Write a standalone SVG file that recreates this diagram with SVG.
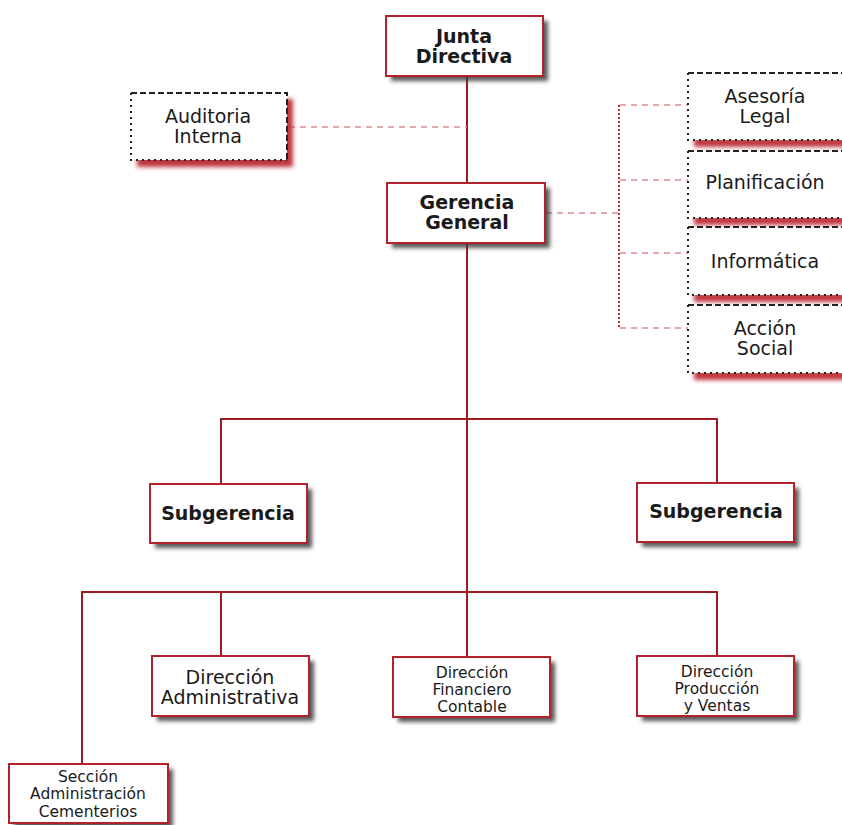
<svg xmlns="http://www.w3.org/2000/svg" width="842" height="825" viewBox="0 0 842 825">
  <defs>
    <filter id="blur" x="-10%" y="-20%" width="130%" height="160%">
      <feGaussianBlur stdDeviation="2"/>
    </filter>
    <style>
      text { font-family: "DejaVu Sans", Verdana, sans-serif; fill: #1a1a1a; text-anchor: middle; }
      .b { font-weight: bold; font-size: 19px; }
      .n { font-size: 19px; }
      .s { font-size: 15.5px; }
      .box { fill: #fff; stroke: #b3222a; stroke-width: 2; }
      .sh { fill: #3a3a3a; filter: url(#blur); opacity: 0.85; }
      .rsh { fill: #c0363e; filter: url(#blur); }
      .dbox { fill: #fff; }
      .dash { stroke: #222; stroke-width: 2; stroke-dasharray: 6 3; fill: none; }
      .dot { stroke: #222; stroke-width: 2; stroke-dasharray: 2 4; fill: none; }
      .line { stroke: #9e1a22; stroke-width: 2; fill: none; }
      .pink { stroke: #d98a8f; stroke-width: 1.5; stroke-dasharray: 6 5; fill: none; }
      .vdot { stroke: #b8323a; stroke-width: 2; stroke-dasharray: 2 2; fill: none; }
    </style>
  </defs>

  <rect width="842" height="825" fill="#fff"/>

  <!-- connectors -->
  <g id="connectors">
    <line class="line" x1="467" y1="76" x2="467" y2="184"/>
    <line class="pink" x1="289" y1="127" x2="467" y2="127"/>
    <line class="pink" x1="546" y1="213" x2="619" y2="213"/>
    <line class="vdot" x1="619" y1="105" x2="619" y2="329"/>
    <line class="pink" x1="620" y1="105" x2="688" y2="105"/>
    <line class="pink" x1="620" y1="180" x2="688" y2="180"/>
    <line class="pink" x1="620" y1="253" x2="688" y2="253"/>
    <line class="pink" x1="620" y1="328" x2="688" y2="328"/>
    <line class="line" x1="467" y1="243" x2="467" y2="658"/>
    <polyline class="line" points="221,484 221,419 717,419 717,483"/>
    <polyline class="line" points="82,764 82,592 717,592 717,656"/>
    <line class="line" x1="221" y1="592" x2="221" y2="656"/>
  </g>

  <!-- Junta Directiva -->
  <g id="junta-directiva">
    <rect class="sh" x="391" y="21" width="157" height="60"/>
    <rect class="box" x="386" y="16" width="157" height="60"/>
    <text class="b" x="464" y="43">Junta</text>
    <text class="b" x="464" y="63">Directiva</text>
  </g>

  <!-- Auditoria Interna -->
  <g id="auditoria-interna">
    <rect class="rsh" x="137" y="99" width="156" height="68"/>
    <rect class="dbox" x="131" y="93" width="156" height="67"/>
    <path class="dash" d="M131,93 H287 V160"/>
    <path class="dot" d="M131,93 V160 H287"/>
    <text class="n" x="208" y="123">Auditoria</text>
    <text class="n" x="208" y="143">Interna</text>
  </g>

  <!-- Gerencia General -->
  <g id="gerencia-general">
    <rect class="sh" x="392" y="188" width="158" height="60"/>
    <rect class="box" x="387" y="183" width="158" height="60"/>
    <text class="b" x="467" y="209">Gerencia</text>
    <text class="b" x="467" y="229">General</text>
  </g>

  <!-- Asesoría Legal -->
  <g id="asesoria-legal">
    <rect class="rsh" x="694" y="138" width="160" height="9"/>
    <rect class="dbox" x="688" y="73" width="160" height="67"/>
    <path class="dash" d="M688,73 H848"/>
    <path class="dot" d="M688,73 V140 H848"/>
    <text class="n" x="765" y="103">Asesoría</text>
    <text class="n" x="765" y="123">Legal</text>
  </g>

  <!-- Planificación -->
  <g id="planificacion">
    <rect class="rsh" x="694" y="216" width="160" height="9"/>
    <rect class="dbox" x="688" y="151" width="160" height="67"/>
    <path class="dash" d="M688,151 H848"/>
    <path class="dot" d="M688,151 V218 H848"/>
    <text class="n" x="765" y="189">Planificación</text>
  </g>

  <!-- Informática -->
  <g id="informatica">
    <rect class="rsh" x="694" y="293" width="160" height="9"/>
    <rect class="dbox" x="688" y="227" width="160" height="68"/>
    <path class="dash" d="M688,227 H848"/>
    <path class="dot" d="M688,227 V295 H848"/>
    <text class="n" x="765" y="268">Informática</text>
  </g>

  <!-- Acción Social -->
  <g id="accion-social">
    <rect class="rsh" x="694" y="371" width="160" height="9"/>
    <rect class="dbox" x="688" y="305" width="160" height="68"/>
    <path class="dash" d="M688,305 H848"/>
    <path class="dot" d="M688,305 V373 H848"/>
    <text class="n" x="765" y="335">Acción</text>
    <text class="n" x="765" y="355">Social</text>
  </g>

  <!-- Subgerencia (left) -->
  <g id="subgerencia-1">
    <rect class="sh" x="155" y="489" width="157" height="59"/>
    <rect class="box" x="150" y="484" width="157" height="59"/>
    <text class="b" x="228" y="520">Subgerencia</text>
  </g>

  <!-- Subgerencia (right) -->
  <g id="subgerencia-2">
    <rect class="sh" x="642" y="488" width="157" height="59"/>
    <rect class="box" x="637" y="483" width="157" height="59"/>
    <text class="b" x="716" y="518">Subgerencia</text>
  </g>

  <!-- Dirección Administrativa -->
  <g id="direccion-administrativa">
    <rect class="sh" x="157" y="661" width="157" height="60"/>
    <rect class="box" x="152" y="656" width="157" height="60"/>
    <text class="n" x="230" y="684">Dirección</text>
    <text class="n" x="230" y="704">Administrativa</text>
  </g>

  <!-- Dirección Financiero Contable -->
  <g id="direccion-financiero">
    <rect class="sh" x="398" y="662" width="157" height="60"/>
    <rect class="box" x="393" y="657" width="157" height="60"/>
    <text class="s" x="472" y="678">Dirección</text>
    <text class="s" x="472" y="695">Financiero</text>
    <text class="s" x="472" y="712">Contable</text>
  </g>

  <!-- Dirección Producción y Ventas -->
  <g id="direccion-produccion">
    <rect class="sh" x="642" y="661" width="157" height="60"/>
    <rect class="box" x="637" y="656" width="157" height="60"/>
    <text class="s" x="717" y="677">Dirección</text>
    <text class="s" x="717" y="694">Producción</text>
    <text class="s" x="717" y="711">y Ventas</text>
  </g>

  <!-- Sección Administración Cementerios -->
  <g id="seccion-cementerios">
    <rect class="sh" x="14" y="769" width="159" height="59"/>
    <rect class="box" x="9" y="764" width="159" height="59"/>
    <text class="s" x="88" y="782">Sección</text>
    <text class="s" x="88" y="799">Administración</text>
    <text class="s" x="88" y="817">Cementerios</text>
  </g>
</svg>
